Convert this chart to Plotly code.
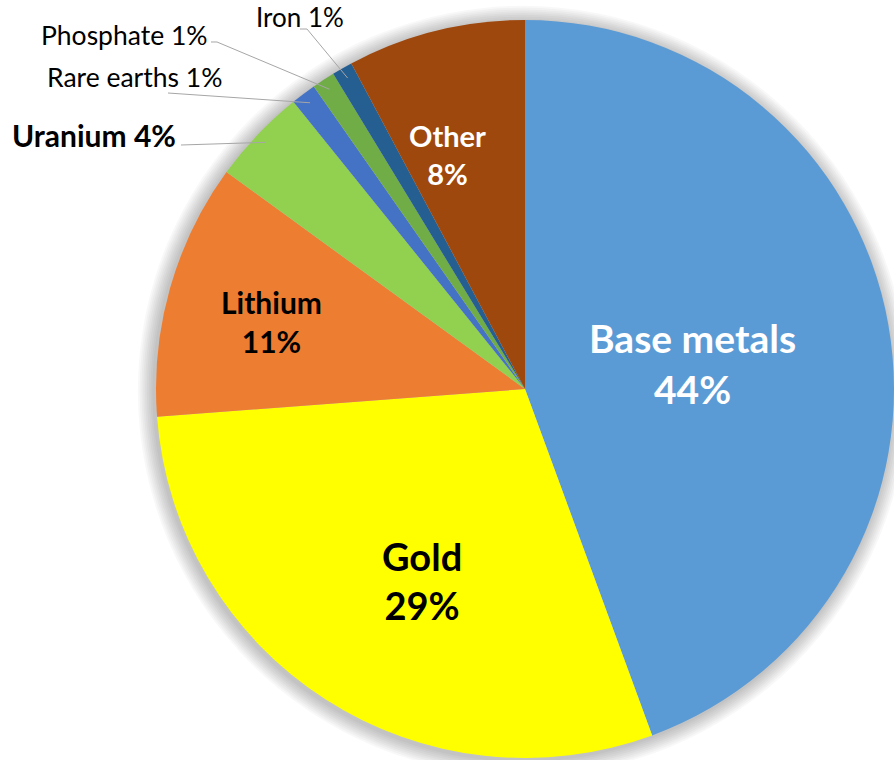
import math
import plotly.graph_objects as go

# ---- data ----
categories = ["Base metals", "Gold", "Lithium", "Uranium", "Rare earths", "Phosphate", "Iron", "Other"]
shares = [44.4, 29.4, 11.2, 4.2, 1.1, 1.0, 0.9, 7.8]

# ---- styles ----
colors = ["#5B9BD5", "#FFFF00", "#ED7D31", "#92D050", "#4472C4", "#70AD47", "#255E91", "#9E480E"]
FONT = "Lato"
W, H = 894, 760
CX, CY, R = 525, 389, 369  # pie centre/radius in pixels

# inside labels: category -> (angle offset from slice middle, radial fraction, size, colour)
inside_style = {
    "Base metals": (1.6, 0.46, 39, "white"),
    "Gold": (-4.4, 0.59, 38, "black"),
    "Lithium": (-0.8, 0.71, 30, "black"),
    "Other": (-4.3, 0.67, 29, "white"),
}
# outside labels: category -> (text anchor px, xanchor, size, bold, leader start px list)
outside_style = {
    "Uranium": ((178, 135), "right", 30, True, [(181, 145)]),
    "Rare earths": ((224, 77), "right", 26.5, False, [(168, 93)]),
    "Phosphate": ((210, 35), "right", 26.5, False, [(211, 42), (217, 42)]),
    "Iron": ((300, 17), "center", 26, False, [(300, 29), (307, 29)]),
}


def paper(x, y):
    return x / W, 1 - y / H


total = sum(shares)
mids = []
cum = 0.0
for v in shares:
    a0 = cum / total * 360
    cum += v
    a1 = cum / total * 360
    mids.append((a0 + a1) / 2)


def polar_px(angle_deg, frac):
    t = math.radians(angle_deg)
    return CX + frac * R * math.sin(t), CY - frac * R * math.cos(t)


fig = go.Figure()
fig.add_trace(go.Pie(
    labels=categories,
    values=shares,
    sort=False,
    direction="clockwise",
    rotation=0,
    textinfo="none",
    hoverinfo="label+percent",
    marker=dict(colors=colors, line=dict(width=0)),
    domain=dict(x=[(CX - R) / W, min(1.0, (CX + R) / W)], y=[1 - (CY + R) / H, 1 - (CY - R) / H]),
    showlegend=False,
))

# soft shadow around the pie
shapes = []
for k in range(1, 10):
    rr = R + k * 1.8
    x0, y0 = paper(CX - rr - 2, CY + rr + 2)
    x1, y1 = paper(CX + rr - 2, CY - rr + 2)
    shapes.append(dict(type="circle", xref="paper", yref="paper", x0=x0, y0=y0, x1=x1, y1=y1,
                       fillcolor="rgba(0,0,0,0.028)", line=dict(width=0), layer="below"))

annotations = []
for i, cat in enumerate(categories):
    pct = f"{round(shares[i] / total * 100)}%"
    if cat in inside_style:
        off, frac, size, col = inside_style[cat]
        x, y = polar_px(mids[i] + off, frac)
        px_, py_ = paper(x, y)
        annotations.append(dict(x=px_, y=py_, xref="paper", yref="paper", showarrow=False,
                                text=f"<b>{cat}<br>{pct}</b>", align="center",
                                font=dict(family=FONT, size=size, color=col),
                                xanchor="center", yanchor="middle"))
    elif cat in outside_style:
        (tx, ty), xa, size, bold, starts = outside_style[cat]
        txt = f"{cat} {pct}"
        if bold:
            txt = f"<b>{txt}</b>"
        px_, py_ = paper(tx, ty)
        annotations.append(dict(x=px_, y=py_, xref="paper", yref="paper", showarrow=False,
                                text=txt, font=dict(family=FONT, size=size, color="#000000"),
                                xanchor=xa, yanchor="middle"))
        ex, ey = polar_px(mids[i], 0.97)
        pts = starts + [(ex, ey)]
        path = "M " + " L ".join(f"{paper(x, y)[0]:.5f},{paper(x, y)[1]:.5f}" for x, y in pts)
        shapes.append(dict(type="path", xref="paper", yref="paper", path=path,
                           line=dict(color="#A6A6A6", width=1)))

fig.update_layout(
    width=W, height=H, autosize=False,
    margin=dict(l=0, r=0, t=0, b=0),
    paper_bgcolor="white", plot_bgcolor="white",
    annotations=annotations, shapes=shapes,
    font=dict(family=FONT),
)
fig.write_html("out.html", config={"displayModeBar": False},
               post_script="document.body.style.margin='0px';")
